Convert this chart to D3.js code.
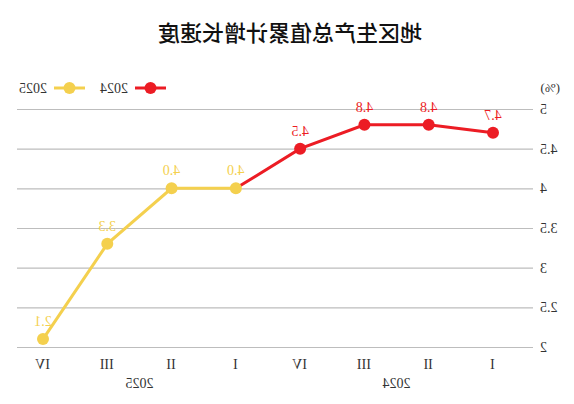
<!DOCTYPE html>
<html><head><meta charset="utf-8">
<script src="https://cdn.jsdelivr.net/npm/d3@7"></script>
<style>
html,body{margin:0;padding:0;background:#fff;}
svg{display:block;transform:scaleX(-1);}
</style></head>
<body>
<svg id="chart" width="574" height="404"></svg>
<script>
// Data (reference image is horizontally mirrored; drawn normally then flipped)
const categories = ["2024-I","2024-II","2024-III","2024-IV","2025-I","2025-II","2025-III","2025-IV"];
const quarterLabels = ["I","II","III","IV","I","II","III","IV"];
const yearLabels = ["2024","2025"];
const series2024 = [4.7, 4.8, 4.8, 4.5];
const series2025 = [4.0, 3.3, 2.1];
const value2025Q1 = 4.0;
const yTicks = [2, 2.5, 3, 3.5, 4, 4.5, 5];
const title = "地区生产总值累计增长速度";
const unitLabel = "(%)";

const red = "#ec1c24", yellow = "#f4d04e";
const svg = d3.select("#chart");
const x = d3.scalePoint().domain(categories).range([81, 531]);
const y = d3.scaleLinear().domain([2, 5]).range([347, 109]);

// title
svg.append("text").attr("x", 284).attr("y", 41).attr("text-anchor", "middle")
  .attr("font-family", "Noto Sans CJK SC").attr("font-size", 22).attr("font-weight", 500)
  .attr("fill", "#111").text(title);

// grid + y labels
const yAxis = d3.axisLeft(y).tickValues(yTicks).tickSize(-(557 - 41)).tickFormat(d3.format("~g")).tickPadding(7);
const ga = svg.append("g").attr("transform", "translate(41,0)").call(yAxis);
ga.select(".domain").remove();
ga.selectAll(".tick line").attr("stroke", "#bdbdbd").attr("stroke-width", 1.2);
ga.selectAll(".tick text").attr("font-family", "Liberation Serif").attr("font-size", 14).attr("fill", "#333");

svg.append("text").attr("x", 14).attr("y", 92).attr("font-family", "Liberation Serif")
  .attr("font-size", 13).attr("fill", "#333").text(unitLabel);

// x labels
const xAxis = d3.axisBottom(x).tickSize(0).tickPadding(0).tickFormat((d, i) => quarterLabels[i]);
const gx = svg.append("g").attr("transform", "translate(0,359)").call(xAxis);
gx.select(".domain").remove();
gx.selectAll(".tick text").attr("font-family", "Liberation Serif").attr("font-size", 14).attr("fill", "#333");
[[0, 3], [4, 7]].forEach((r, i) => {
  svg.append("text").attr("x", (x(categories[r[0]]) + x(categories[r[1]])) / 2).attr("y", 388)
    .attr("text-anchor", "middle").attr("font-family", "Liberation Serif").attr("font-size", 14)
    .attr("fill", "#333").text(yearLabels[i]);
});

// series data
const d2024 = series2024.map((v, i) => ({c: categories[i], v}));
const d2025 = [value2025Q1].concat(series2025).map((v, i) => ({c: categories[4 + i], v}));
const line = d3.line().x(d => x(d.c)).y(d => y(d.v));

svg.append("path").datum(d2024.concat([d2025[0]])).attr("d", line)
  .attr("fill", "none").attr("stroke", red).attr("stroke-width", 3);
svg.append("path").datum(d2025).attr("d", line)
  .attr("fill", "none").attr("stroke", yellow).attr("stroke-width", 3);

function marks(data, color) {
  svg.append("g").selectAll("circle").data(data).join("circle")
    .attr("cx", d => x(d.c)).attr("cy", d => y(d.v)).attr("r", 6).attr("fill", color);
  svg.append("g").selectAll("text").data(data).join("text")
    .attr("x", d => x(d.c)).attr("y", d => y(d.v) - 13).attr("text-anchor", "middle")
    .attr("font-family", "Liberation Serif").attr("font-size", 14).attr("fill", color)
    .text(d => d3.format(".1f")(d.v));
}
marks(d2024, red);
marks(d2025, yellow);

// legend
const legend = [{name: "2024", color: red, x: 408}, {name: "2025", color: yellow, x: 489}];
legend.forEach(l => {
  const g = svg.append("g");
  g.append("line").attr("x1", l.x).attr("x2", l.x + 31).attr("y1", 88).attr("y2", 88)
    .attr("stroke", l.color).attr("stroke-width", 3);
  g.append("circle").attr("cx", l.x + 15.5).attr("cy", 88).attr("r", 6).attr("fill", l.color);
  g.append("text").attr("x", l.x + 38).attr("y", 93).attr("font-family", "Liberation Serif")
    .attr("font-size", 14).attr("fill", "#333").text(l.name);
});
</script>
</body></html>
